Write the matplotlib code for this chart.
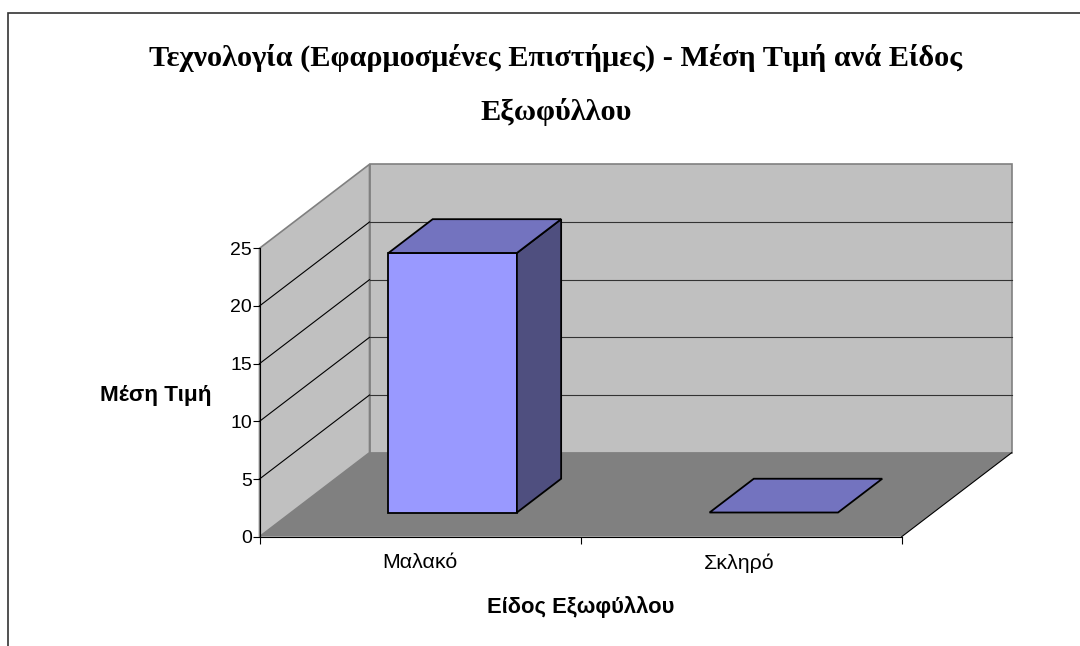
import matplotlib
matplotlib.use("Agg")
import matplotlib.pyplot as plt
from matplotlib.patches import Polygon, Rectangle

categories = ["Μαλακό", "Σκληρό"]
values = [22.5, 0]
y_ticks = [0, 5, 10, 15, 20, 25]
title_lines = ["Τεχνολογία (Εφαρμοσμένες Επιστήμες) - Μέση Τιμή ανά Είδος", "Εξωφύλλου"]

W, H = 1080, 646
X0, X2 = 259.5, 901.7   # pixel of category edges 0 and 2
Y0, Y25 = 536.7, 248.3  # pixel of value 0 and 25
px_x = (X2 - X0) / 2
px_y = (Y0 - Y25) / 25

# depth of the box, in data units
DX = 110 / px_x
DY = 84 / px_y
BAR_D0, BAR_D1 = 0.288, 0.69
BAR_L, BAR_R = 0.303, 0.703


def proj(x, v, d=0.0):
    return (x + d * DX, v + d * DY)


def poly(points, **kw):
    ax.add_patch(Polygon(points, closed=True, **kw))


fig = plt.figure(figsize=(W / 100, H / 100), dpi=100)
ax = fig.add_axes([0, 0, 1, 1])
ax.set_xlim(-X0 / px_x, (W - X0) / px_x)
ax.set_ylim((Y0 - H) / px_y, Y0 / px_y)
ax.patch.set_visible(False)

# outer frame, cut by the picture on the right and at the bottom
fig.add_artist(Rectangle((8 / W, -0.02), 1.02, 1 - 13 / H + 0.02, transform=fig.transFigure,
                         fill=False, ec="#333333", lw=1.2))

top = y_ticks[-1]
wall = "#c0c0c0"
edge = "#808080"
# walls and floor
poly([proj(0, 0, 1), proj(2, 0, 1), proj(2, top, 1), proj(0, top, 1)], fc=wall, ec=edge, lw=1.2, zorder=1)
poly([proj(0, 0), proj(0, 0, 1), proj(0, top, 1), proj(0, top)], fc=wall, ec=edge, lw=1.2, zorder=1)
poly([proj(0, 0), proj(2, 0), proj(2, 0, 1), proj(0, 0, 1)], fc="#808080", ec="none", zorder=2)
ax.plot(*zip(proj(2, 0), proj(2, 0, 1)), color="black", lw=0.8, zorder=2)

# gridlines
for v in y_ticks[1:-1]:
    ax.plot(*zip(proj(0, v), proj(0, v, 1)), color="black", lw=0.8, zorder=3)
    ax.plot(*zip(proj(0, v, 1), proj(2, v, 1)), color="#333333", lw=0.8, zorder=3)

# bars
for i, v in enumerate(values):
    l, r = i + BAR_L, i + BAR_R
    style = dict(ec="black", lw=1.3, joinstyle="miter", zorder=5)
    if v > 0:
        poly([proj(l, 0, BAR_D0), proj(r, 0, BAR_D0), proj(r, v, BAR_D0), proj(l, v, BAR_D0)], fc="#9999ff", **style)
        poly([proj(r, 0, BAR_D0), proj(r, 0, BAR_D1), proj(r, v, BAR_D1), proj(r, v, BAR_D0)], fc="#4f4f7f", **style)
    poly([proj(l, v, BAR_D0), proj(r, v, BAR_D0), proj(r, v, BAR_D1), proj(l, v, BAR_D1)], fc="#7373bf", **style)

# axes
for s in ["top", "right"]:
    ax.spines[s].set_visible(False)
ax.spines["left"].set_position(("data", 0))
ax.spines["bottom"].set_position(("data", 0))
ax.spines["left"].set_bounds(0, top)
ax.spines["bottom"].set_bounds(0, 2)
ax.spines["left"].set_zorder(6)
ax.spines["bottom"].set_zorder(6)
ax.set_yticks(y_ticks)
ax.set_xticks([0, 1, 2])
ax.set_xticklabels([])
ax.set_xticks([0.5, 1.494], minor=True)
ax.set_xticklabels(categories, minor=True)
ax.tick_params(axis="x", which="major", length=5, width=0.8, direction="out")
ax.tick_params(axis="x", which="minor", length=0, pad=12)
ax.tick_params(axis="y", length=5, width=0.8, pad=0.5)
for lab in ax.get_yticklabels():
    lab.set_fontfamily("Liberation Sans")
    lab.set_fontsize(14)
for lab in ax.get_xticklabels(minor=True):
    lab.set_fontfamily("Liberation Sans")
    lab.set_fontsize(15.4)

# titles and axis labels
for line, py in zip(title_lines, [58, 112]):
    fig.text(556 / W, 1 - py / H, line, ha="center", va="center", family="Liberation Serif",
             fontweight="bold", fontsize=21.8, color="black")
fig.text(581 / W, 1 - 607 / H, "Είδος Εξωφύλλου", ha="center", va="center", family="Liberation Sans",
         fontweight="bold", fontsize=15.8)
fig.text(156 / W, 1 - 396 / H, "Μέση Τιμή", ha="center", va="center", family="Liberation Sans",
         fontweight="bold", fontsize=16.2)

fig.savefig("out.png", dpi=100)
